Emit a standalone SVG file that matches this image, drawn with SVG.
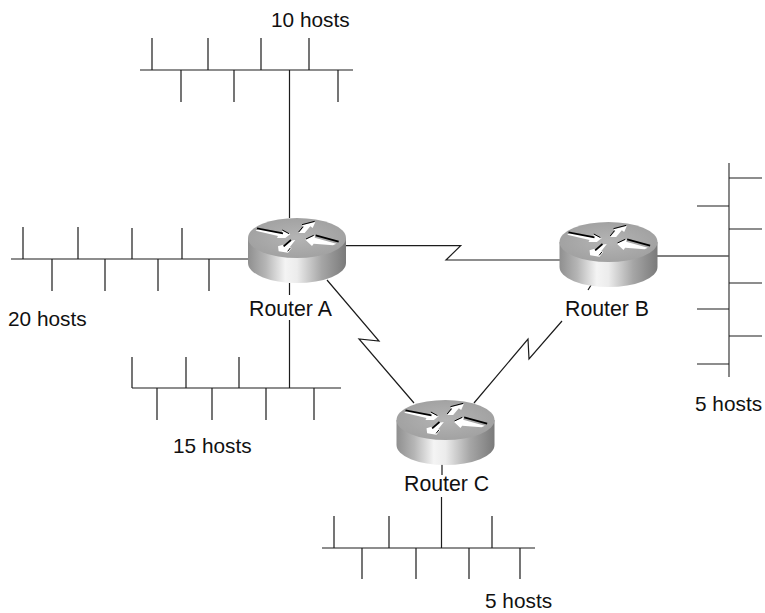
<svg xmlns="http://www.w3.org/2000/svg" width="765" height="613" viewBox="0 0 765 613">
<style>
.l{fill:none;stroke:#1c1c1c;stroke-width:1.2}
.g{fill:none;stroke:#555;stroke-width:1.4}
text{font-family:"Liberation Sans",Arial,sans-serif;font-size:20.8px;fill:#111}
.r{font-size:21.3px}
.w{fill:#fff}
.b{fill:none;stroke:#000;stroke-width:5}
.t{fill:none;stroke:#000;stroke-width:3}
</style>
<defs>
<linearGradient id="side" x1="0" x2="1" y1="0" y2="0">
<stop offset="0" stop-color="#8f8f8f"/>
<stop offset=".18" stop-color="#b5b5b5"/>
<stop offset=".38" stop-color="#f4f4f4"/>
<stop offset=".5" stop-color="#ececec"/>
<stop offset=".75" stop-color="#a6a6a6"/>
<stop offset="1" stop-color="#7a7a7a"/>
</linearGradient>
<radialGradient id="top">
<stop offset="0" stop-color="#b4b4b4"/>
<stop offset="1" stop-color="#a2a2a2"/>
</radialGradient>
<g id="router">
<path d="M-49 0V25A49 20 0 0 0 49 25V0Z" fill="url(#side)"/>
<ellipse rx="49" ry="20" fill="url(#top)"/>
<g transform="scale(.3333)">
<path class="w" d="M-124-22L-113-29L-45-14L-45-22L-20-12L-35 0L-60 0L-57-6Z"/>
<path class="b" d="M-120-29L-42-14"/>
<path class="t" d="M-44-24L-24-13"/>
<path class="w" d="M5-15L20-32L15-38L55-48L47-30L40-35L23-15Z"/>
<path class="t" d="M5-18L18-34M15-40L53-50"/>
<path class="w" d="M25 5L55-8L53-1L118 17L108 22L50 17L45 24Z"/>
<path class="b" d="M56-8L125 11"/>
<path class="t" d="M27 3L50-8"/>
<path class="w" d="M-57 25L-42 20L-38 26L-20 8L-5 6L-22 28L-16 30L-27 44L-55 40Z"/>
<path class="b" d="M-40 25L-18 6"/>
<path class="t" d="M-28 40L-20 30"/>
</g>
</g>
</defs>
<g id="connectors">
<path class="l" d="M345 245.700H460.700L446 260H560"/>
<path class="l" d="M327 280L379 341L359 339L414 403"/>
<path class="l" d="M593 282L588 290M562 321L529 359L528 339L474 403"/>
<path class="l" d="M289.500 70V218M289.500 283V295M289.500 320V388"/>
<path class="l" d="M442 464V475M441.500 497V548"/>
<path class="g" d="M657 256H729"/>
</g>
<g id="net-top">
<path class="l" d="M140 70H353M152 38V70M208 38V70M261 38V70M309 38V70M181 70V102M234 70V102M338 70V102"/>
</g>
<g id="net-left">
<path class="l" d="M11 259H248M23 227V259M78 227V259M132 228V259M182 228V259M52 259V291M105 259V291M158 259V291M209 259V291"/>
</g>
<g id="net-bottom-left">
<path class="l" d="M132 388H341M132 357V388M186 357V388M239 357V388M157 388V420M212 388V420M266 388V420M314 388V420"/>
</g>
<g id="net-bottom">
<path class="l" d="M322 548H535M334 516V548M389 516V548M492 516V548M362 548V579M416 548V579M469 548V579M520 548V579"/>
</g>
<g id="net-right">
<path class="g" d="M729 163V377"/>
<path class="l" d="M729 178H762M729 229H762M729 283H762M729 336H762M697 206H729M697 309H729M697 364H729"/>
</g>
<g id="router-a"><use href="#router" x="297" y="238"/><text class="r" x="249" y="316">Router A</text></g>
<g id="router-b"><use href="#router" x="608.500" y="242"/><text class="r" x="565" y="316">Router B</text></g>
<g id="router-c"><use href="#router" x="445.500" y="420"/><text class="r" x="404" y="491">Router C</text></g>
<g id="labels">
<text x="271" y="27">10 hosts</text>
<text x="8" y="326">20 hosts</text>
<text x="173" y="453">15 hosts</text>
<text x="695" y="411">5 hosts</text>
<text x="485" y="608">5 hosts</text>
</g>
</svg>
